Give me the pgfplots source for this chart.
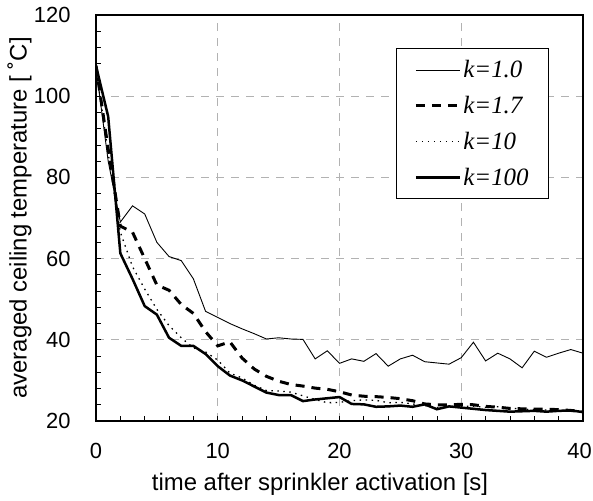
\documentclass[border=0pt]{standalone}
\usepackage{fontspec}
\setmainfont{Liberation Sans}
\newfontfamily\legfont{Liberation Serif}
\usepackage{pgfplots}
\pgfplotsset{compat=1.18}

\pgfplotstableread{
x y
0 107
1 84
2 69
3 73
4 71
5 64
6 60.5
7 59.5
8 55
9 47
10 45.5
11 44
12 42.7
13 41.5
14 40.2
15 40.5
16 40.2
17 40.1
18 35.3
19 37.3
20 34.2
21 35.3
22 34.7
23 36.6
24 33.5
25 35.3
26 36.2
27 34.6
28 34.3
29 34.0
30 35.6
31 39.4
32 34.8
33 36.7
34 35.3
35 33.1
36 37.2
37 35.7
38 36.7
39 37.6
40 36.7
}\kone

\pgfplotstableread{
x y
0 107.5
1 87
2 68
3 66.5
4 60
5 53.5
6 52.2
7 48.7
8 46.5
9 42
10 38.5
11 39.5
12 35.5
13 32.8
14 31
15 29.8
16 29
17 28.6
18 28.1
19 27.8
20 27.2
21 26.4
22 26.1
23 26
24 25.8
25 25.5
26 25
27 24.2
28 24
29 24
30 24.1
31 24
32 23.6
33 23.4
34 23.1
35 23
36 22.9
37 22.9
38 22.8
39 22.6
40 22.3
}\ktwo

\pgfplotstableread{
x y
0 107
1 86
2 66.5
3 58
4 52.5
5 47.5
6 43.5
7 40.5
8 38
9 37
10 35
11 31.8
12 30.6
13 28.8
14 27.5
15 27.4
16 27.1
17 26.2
18 25.3
19 24.5
20 24.6
21 25
22 25.2
23 25.1
24 24.5
25 24.6
26 24.2
27 23.8
28 23.3
29 23.5
30 23.6
31 23.6
32 23.4
33 23.5
34 23.2
35 22.9
36 22.8
37 22.7
38 22.6
39 22.5
40 22.3
}\kthree

\pgfplotstableread{
x y
0 107.5
1 95
2 61.3
3 55
4 48.3
5 46.2
6 40.5
7 38.5
8 38.5
9 36.5
10 33.5
11 31.2
12 30
13 28.5
14 27
15 26.4
16 26.4
17 24.9
18 25.3
19 25.6
20 25.9
21 24.2
22 24.1
23 23.5
24 23.6
25 23.8
26 23.5
27 24.1
28 22.9
29 23.6
30 23.3
31 23
32 22.7
33 22.5
34 22.3
35 22.4
36 22.5
37 22.3
38 22.5
39 22.6
40 22.2
}\kfour

\begin{document}
\begin{tikzpicture}
\path[use as bounding box] (-96bp,-80bp) rectangle (497bp,421bp);
\begin{axis}[
  at={(0,0)}, anchor=south west,
  scale only axis, width=487bp, height=406bp,
  xmin=0, xmax=40, ymin=20, ymax=120,
  xtick={0,10,...,40}, ytick={20,40,...,120},
  xticklabels={0,10,20,30,{\hspace*{-7bp}40}},
  minor x tick num=4, minor y tick num=4,
  tick align=inside, xtick pos=bottom, ytick pos=left,
  major tick length=5bp, minor tick length=5bp,
  tick style={black, line width=0.8bp},
  axis line style={line width=1.5bp},
  grid=major,
  major grid style={gray!60, line width=0.8bp, dash pattern=on 8bp off 7bp},
  /pgf/number format/assume math mode=true,
  xticklabel style={font=\fontsize{22}{26}\selectfont, anchor=center, yshift=-30bp},
  yticklabel style={font=\fontsize{22}{26}\selectfont, anchor=east, xshift=-22bp},
  xlabel style={font=\fontsize{24}{28}\selectfont, at={(axis description cs:0.46,-0.155)}, anchor=center},
  ylabel style={font=\fontsize{24}{28}\selectfont, at={(axis description cs:-0.157,0.5)}, anchor=center},
  xlabel={time after sprinkler activation [s]},
  ylabel={averaged ceiling temperature [ ˚C]},
  legend style={at={(0.616,0.918)}, anchor=north west, draw=black, line width=0.8bp,
    fill=white, font=\legfont\itshape\fontsize{25}{28}\selectfont,
    row sep=13bp, inner xsep=18bp, inner ysep=10bp},
  legend cell align=left,
  legend image code/.code={\draw[#1] (0bp,0bp) -- (44bp,0bp);},
]
\addplot[black, line width=0.9bp] table {\kone};
\addlegendentry{k=1.0}
\addplot[black, line width=3bp, dash pattern=on 9bp off 7bp] table {\ktwo};
\addlegendentry{k=1.7}
\addplot[black, line width=1.3bp, dash pattern=on 1.5bp off 4.5bp] table {\kthree};
\addlegendentry{k=10}
\addplot[black, line width=2.5bp] table {\kfour};
\addlegendentry{k=100}
\end{axis}
\end{tikzpicture}
\end{document}
